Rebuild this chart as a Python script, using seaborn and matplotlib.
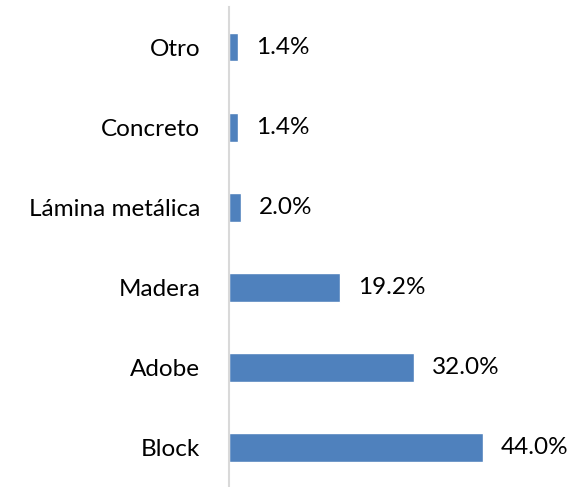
import matplotlib
matplotlib.use("Agg")
import matplotlib.pyplot as plt
import seaborn as sns
import pandas as pd

categories = ["Otro", "Concreto", "Lámina metálica", "Madera", "Adobe", "Block"]
values = [1.4, 1.4, 2.0, 19.2, 32.0, 44.0]
value_labels = ["1.4%", "1.4%", "2.0%", "19.2%", "32.0%", "44.0%"]

sns.set_theme(style="white")
plt.rcParams["font.family"] = ["Lato", "DejaVu Sans"]

df = pd.DataFrame({"cat": categories, "val": values})

fig = plt.figure(figsize=(5.75, 4.87), dpi=100)
ax = fig.add_axes([0.3991, -0.001, 0.601, 0.9867])
sns.barplot(data=df, x="val", y="cat", order=categories, color="#4F81BD",
            saturation=1, width=0.36, ax=ax)
ax.set_xlim(0, 60)
ax.set_ylim(5.5, -0.5)
ax.set_xlabel("")
ax.set_ylabel("")
ax.set_xticks([])
for s in ["top", "right", "bottom"]:
    ax.spines[s].set_visible(False)
ax.spines["left"].set_color("#D9D9D9")
ax.spines["left"].set_linewidth(1.5)
ax.tick_params(axis="y", length=0, pad=21, labelsize=17.5, labelcolor="black")
ax.bar_label(ax.containers[0], labels=value_labels, padding=13, fontsize=17.5, color="black")
fig.savefig("out.png", dpi=100)
